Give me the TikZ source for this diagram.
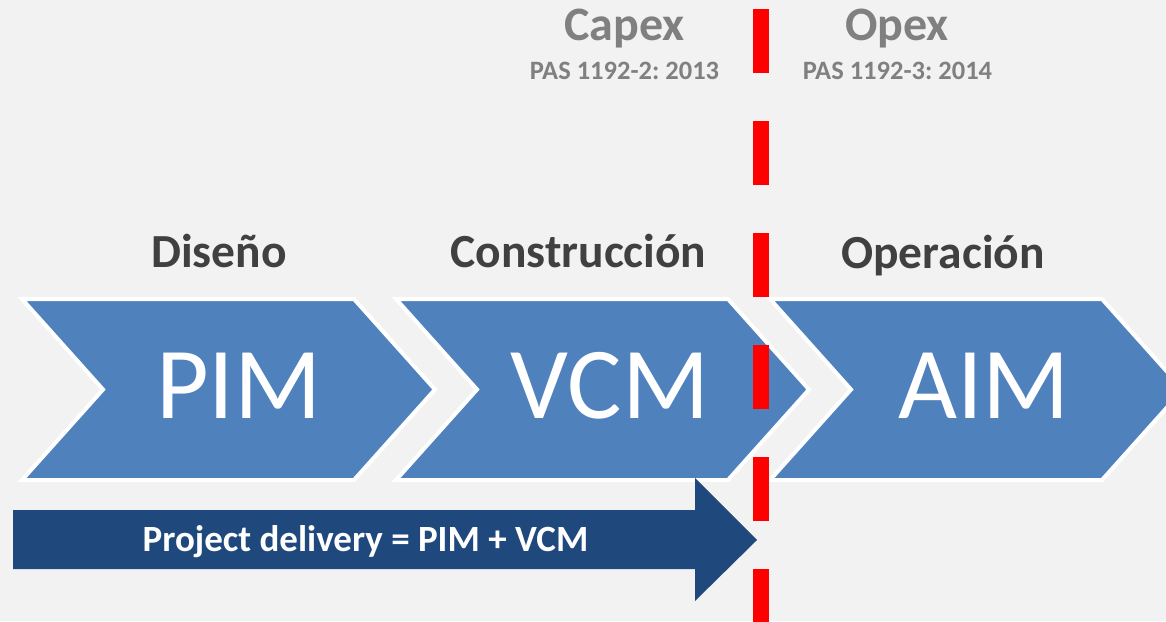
\documentclass[tikz,border=0pt]{standalone}
\usepackage{fontspec}
\setmainfont{Carlito}
\frenchspacing
\definecolor{bgc}{HTML}{F2F2F2}
\definecolor{chevblue}{HTML}{4F81BD}
\definecolor{darkblue}{HTML}{1F497D}
\definecolor{headgray}{HTML}{404040}
\definecolor{topgray}{HTML}{808080}
\definecolor{dashred}{HTML}{FF0000}
\tikzset{
  chevfill/.style={fill=chevblue, draw=white, line width=4pt, line join=miter},
  chev/.pic={\path[chevfill] (0,0) -- (332,0) -- (413,90.5) -- (332,181) -- (0,181) -- (81,90.5) -- cycle;},
  heading/.style={anchor=base, inner sep=0pt, text=headgray, font=\bfseries\fontsize{47.5}{52}\selectfont},
  toplabel/.style={anchor=base, inner sep=0pt, text=topgray, font=\bfseries\fontsize{48}{52}\selectfont},
  pastext/.style={anchor=base, inner sep=0pt, text=topgray, font=\bfseries\fontsize{26.5}{30}\selectfont},
  bigtext/.style={anchor=base, inner sep=0pt, text=white, font=\fontsize{102}{110}\selectfont},
  delivtext/.style={anchor=base, inner sep=0pt, text=white, font=\bfseries\fontsize{37}{42}\selectfont},
  reddash/.style={draw=dashred, line width=16pt, dash pattern=on 64pt off 48pt},
}
\begin{document}
\begin{tikzpicture}[x=1pt, y=-1pt]
\fill[bgc] (0,0) rectangle (1166,621);
\useasboundingbox (0,0) rectangle (1166,621);
\clip (0,0) rectangle (1166,621);
% chevrons
\pic at (22,299) {chev};
\pic at (396,299) {chev};
\pic at (770,299) {chev};
% delivery arrow
\fill[darkblue] (13,510) -- (695,510) -- (695,478) -- (757,540) -- (695,601) -- (695,569) -- (13,569) -- cycle;
% red dashed divider
\coordinate (dtop) at (761,9);
\coordinate (dbot) at (761,640);
\draw[reddash] (dtop) -- (dbot);
% labels
\node[toplabel] (capex) at (624.5,40) {Capex};
\node[pastext] (pas2) at (624.5,79) {PAS 1192-2: 2013};
\node[toplabel] (opex) at (897,40) {Opex};
\node[pastext] (pas3) at (897.5,79) {PAS 1192-3: 2014};
\node[heading] (diseno) at (219,267) {Diseño};
\node[heading] (constr) at (578.5,267) {Construcción};
\node[heading] (oper) at (943,268) {Operación};
\node[bigtext] (pim) at (239,418) {PIM};
\node[bigtext] (vcm) at (610,418) {VCM};
\node[bigtext] (aim) at (984,418) {AIM};
\node[delivtext] (deliv) at (365.5,551) {Project delivery = PIM + VCM};
\end{tikzpicture}
\end{document}
